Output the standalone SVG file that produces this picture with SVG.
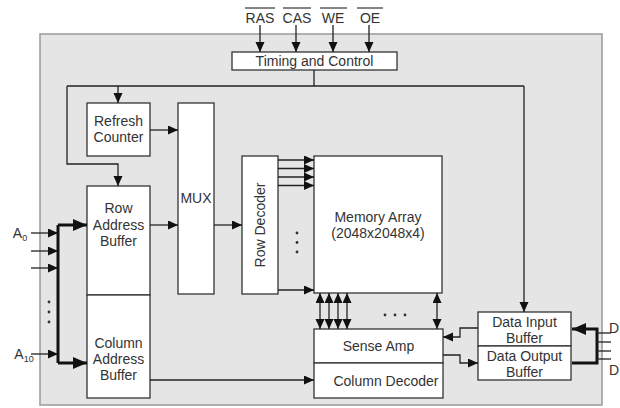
<svg xmlns="http://www.w3.org/2000/svg" width="620" height="408" viewBox="0 0 620 408">
<defs>
<style>
.box{fill:#fff;stroke:#333;stroke-width:1.3}
.t{font-family:"Liberation Sans",Arial,sans-serif;font-size:14px;fill:#333;text-anchor:middle}
.ln{fill:none;stroke:#222;stroke-width:1.3}
.th{fill:none;stroke:#111;stroke-width:3}
.dot{fill:#333}
</style>
<marker id="a" markerUnits="userSpaceOnUse" markerWidth="12" markerHeight="10" refX="10" refY="4.5" orient="auto-start-reverse"><path d="M0,0 L10,4.5 L0,9 z" fill="#111"/></marker>
<marker id="b" markerUnits="userSpaceOnUse" markerWidth="16" markerHeight="14" refX="14" refY="6" orient="auto"><path d="M0,0 L14,6 L0,12 z" fill="#111"/></marker>
</defs>
<rect x="40" y="34" width="562" height="371" fill="#e5e5e5" stroke="#999" stroke-width="1.5"/>

<g id="signals">
<text class="t" x="260" y="23">RAS</text>
<text class="t" x="297" y="23">CAS</text>
<text class="t" x="333" y="23">WE</text>
<text class="t" x="370" y="23">OE</text>
<g stroke="#333" stroke-width="1.2">
<line x1="245" y1="8" x2="275" y2="8"/>
<line x1="283" y1="8" x2="311" y2="8"/>
<line x1="320" y1="8" x2="347" y2="8"/>
<line x1="357" y1="8" x2="383" y2="8"/>
</g>
</g>

<g id="timing"><rect class="box" x="232" y="52" width="165" height="18"/><text class="t" x="314.5" y="66">Timing and Control</text></g>
<g id="refresh"><rect class="box" x="87" y="103" width="63" height="53"/><text class="t" x="118.5" y="126">Refresh</text><text class="t" x="118.5" y="142">Counter</text></g>
<g id="mux"><rect class="box" x="178" y="103" width="36" height="191"/><text class="t" x="196" y="203">MUX</text></g>
<g id="rowaddr"><rect class="box" x="87" y="186" width="63" height="109"/><text class="t" x="118.5" y="213">Row</text><text class="t" x="118.5" y="230">Address</text><text class="t" x="118.5" y="246">Buffer</text></g>
<g id="coladdr"><rect class="box" x="87" y="295" width="63" height="103"/><text class="t" x="118.5" y="348">Column</text><text class="t" x="118.5" y="364">Address</text><text class="t" x="118.5" y="380">Buffer</text></g>
<g id="rowdec"><rect class="box" x="242" y="156" width="36" height="138"/><text class="t" transform="translate(264.5,225) rotate(-90)" x="0" y="0">Row Decoder</text></g>
<g id="memory"><rect class="box" x="314" y="156" width="128" height="137"/><text class="t" x="378" y="222">Memory Array</text><text class="t" x="378" y="238">(2048x2048x4)</text></g>
<g id="senseamp"><rect class="box" x="314" y="329" width="129" height="34"/><text class="t" x="378.5" y="351">Sense Amp</text></g>
<g id="coldec"><rect class="box" x="314" y="363" width="129" height="35"/><text class="t" x="386" y="386">Column Decoder</text></g>
<g id="datain"><rect class="box" x="478" y="312" width="93" height="34"/><text class="t" x="524.5" y="327">Data Input</text><text class="t" x="524.5" y="343">Buffer</text></g>
<g id="dataout"><rect class="box" x="478" y="346" width="93" height="34"/><text class="t" x="524.5" y="361">Data Output</text><text class="t" x="524.5" y="377">Buffer</text></g>

<g id="labels">
<text class="t" x="20" y="238">A<tspan font-size="9" dy="3">0</tspan></text>
<text class="t" x="24" y="359">A<tspan font-size="9" dy="3">10</tspan></text>
<text class="t" x="614" y="333">D</text>
<text class="t" x="614" y="375">D</text>
</g>

<g id="connectors">
<line class="ln" x1="260" y1="25" x2="260" y2="52" marker-end="url(#a)"/>
<line class="ln" x1="296" y1="25" x2="296" y2="52" marker-end="url(#a)"/>
<line class="ln" x1="333" y1="25" x2="333" y2="52" marker-end="url(#a)"/>
<line class="ln" x1="369" y1="25" x2="369" y2="52" marker-end="url(#a)"/>
<path class="ln" d="M314,70 V86 M67,86 H524"/>
<path class="ln" d="M67,86 V164 H118 V186" marker-end="url(#a)"/>
<line class="ln" x1="118" y1="86" x2="118" y2="103" marker-end="url(#a)"/>
<line class="ln" x1="524" y1="86" x2="524" y2="312" marker-end="url(#a)"/>
<line class="ln" x1="150" y1="130" x2="178" y2="130" marker-end="url(#a)"/>
<line class="ln" x1="150" y1="225" x2="178" y2="225" marker-end="url(#a)"/>
<line class="ln" x1="214" y1="225" x2="242" y2="225" marker-end="url(#a)"/>
<line class="ln" x1="278" y1="160" x2="314" y2="160" marker-end="url(#a)"/>
<line class="ln" x1="278" y1="168.5" x2="314" y2="168.5" marker-end="url(#a)"/>
<line class="ln" x1="278" y1="177" x2="314" y2="177" marker-end="url(#a)"/>
<line class="ln" x1="278" y1="185.5" x2="314" y2="185.5" marker-end="url(#a)"/>
<line class="ln" x1="278" y1="290" x2="314" y2="290" marker-end="url(#a)"/>
<line class="ln" x1="320" y1="293" x2="320" y2="329" marker-start="url(#a)" marker-end="url(#a)"/>
<line class="ln" x1="329" y1="293" x2="329" y2="329" marker-start="url(#a)" marker-end="url(#a)"/>
<line class="ln" x1="338" y1="293" x2="338" y2="329" marker-start="url(#a)" marker-end="url(#a)"/>
<line class="ln" x1="347" y1="293" x2="347" y2="329" marker-start="url(#a)" marker-end="url(#a)"/>
<line class="ln" x1="437" y1="293" x2="437" y2="329" marker-start="url(#a)" marker-end="url(#a)"/>
<line class="ln" x1="150" y1="380" x2="314" y2="380" marker-end="url(#a)"/>
<path class="ln" d="M478,328 H460 V337 H443" marker-end="url(#a)"/>
<path class="ln" d="M443,355 H460 V363 H478" marker-end="url(#a)"/>
<line class="ln" x1="31" y1="233" x2="58" y2="233" marker-end="url(#a)"/>
<line class="ln" x1="31" y1="251" x2="58" y2="251" marker-end="url(#a)"/>
<line class="ln" x1="31" y1="268" x2="58" y2="268" marker-end="url(#a)"/>
<line class="ln" x1="31" y1="354" x2="58" y2="354" marker-end="url(#a)"/>
<path class="th" d="M58,225 V363"/>
<path class="th" d="M58,225 H87" marker-end="url(#b)"/>
<path class="th" d="M58,363 H87" marker-end="url(#b)"/>
<path class="th" d="M572,363 H597 V329 H572" marker-end="url(#b)"/>
<g class="ln">
<line x1="597" y1="333" x2="611" y2="333"/>
<line x1="597" y1="342" x2="611" y2="342"/>
<line x1="597" y1="351" x2="611" y2="351"/>
<line x1="597" y1="359" x2="611" y2="359"/>
</g>
</g>
<g id="dots">
<circle class="dot" cx="297" cy="233" r="1.4"/><circle class="dot" cx="297" cy="242.5" r="1.4"/><circle class="dot" cx="297" cy="252" r="1.4"/>
<circle class="dot" cx="49" cy="302" r="1.4"/><circle class="dot" cx="49" cy="312" r="1.4"/><circle class="dot" cx="49" cy="322" r="1.4"/>
<circle class="dot" cx="385" cy="315" r="1.4"/><circle class="dot" cx="395" cy="315" r="1.4"/><circle class="dot" cx="405" cy="315" r="1.4"/>
</g>
</svg>
